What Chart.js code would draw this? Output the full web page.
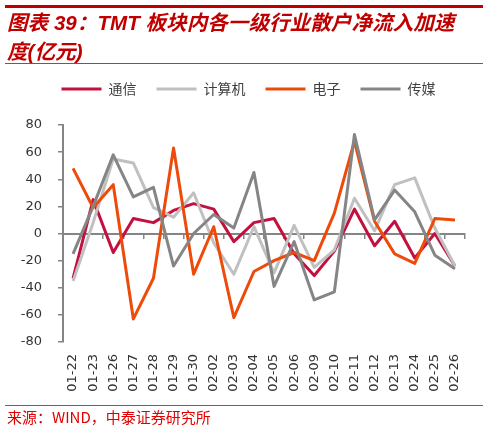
<!DOCTYPE html>
<html>
<head>
<meta charset="utf-8">
<script src="https://cdn.jsdelivr.net/npm/chart.js@4"></script>
<style>
  html, body { margin: 0; padding: 0; background: #fff; }
  #wrap { position: relative; width: 488px; height: 430px; overflow: hidden; }
  #c { position: absolute; left: 0; top: 0; }
  .rule { position: absolute; left: 5px; width: 478px; }
  #title { position: absolute; left: 7px; top: 8px; color: #C00000; font-family: "Liberation Sans", "Noto Sans CJK SC", sans-serif; font-weight: bold; font-style: italic; font-size: 20.6px; line-height: 29px; white-space: nowrap; }
  #source { position: absolute; left: 7px; top: 408px; color: #E00000; font-family: "Noto Sans CJK SC", sans-serif; font-size: 15px; line-height: 18px; white-space: nowrap; }
</style>
</head>
<body>
<div id="wrap">
  <canvas id="c" width="488" height="430"></canvas>
  <div class="rule" style="top:5px;height:3px;background:#C00000;"></div>
  <div id="title">图表 39：TMT 板块内各一级行业散户净流入加速<br>度(亿元)</div>
  <div class="rule" style="top:63px;height:1px;background:#D03030;"></div>
  <div class="rule" style="top:405px;height:1px;background:#E03030;"></div>
  <div id="source">来源：WIND，中泰证券研究所</div>
</div>
<script>
const categories = ['01-22','01-23','01-26','01-27','01-28','01-29','01-30','02-02','02-03','02-04','02-05','02-06','02-09','02-10','02-11','02-12','02-13','02-24','02-25','02-26'];
const seriesNames = ['通信', '计算机', '电子', '传媒'];
const tongxin  = [-33, 25, -14, 11, 8, 17, 22, 18, -6, 8, 11, -15, -31, -13, 18, -9, 9, -18, 0, -24];
const jisuanji = [-35, 8, 55, 52, 19, 12, 30, -7, -30, 5, -29, 6, -25, -12, 26, 2, 36, 41, 4, -24];
const dianzi   = [48, 19, 36, -63, -33, 63, -30, 5, -62, -28, -20, -14, -20, 15, 68, 9, -15, -22, 11, 10];
const chuanmei = [-15, 20, 58, 27, 34, -24, 0, 14, 4, 45, -39, -6, -49, -43, 73, 10, 32, 16, -16, -26];
const yMin = -80, yMax = 80, yStep = 20;
const seriesColors = ['#C4103F', '#C0C0C0', '#EE4B0A', '#858585'];

const axisColor = '#858585';
const tickFont = { family: '"DejaVu Sans", sans-serif', size: 13 };

const allSeries = [tongxin, jisuanji, dianzi, chuanmei];
const datasets = allSeries.map((d, i) => ({
  label: seriesNames[i],
  data: d,
  borderColor: seriesColors[i],
  backgroundColor: seriesColors[i],
  borderWidth: 3,
  pointRadius: 0,
  tension: 0,
  borderJoinStyle: 'round',
  fill: false,
  xAxisID: 'x',
  order: allSeries.length - 1 - i
}));

const legendSpacer = {
  id: 'legendSpacer',
  beforeInit(chart) {
    const orig = chart.legend.fit;
    chart.legend.fit = function () { orig.call(this); this.height += 19; };
  },
  afterLayout(chart) {
    chart.legend.left += 16;
    chart.legend.right += 16;
  }
};

new Chart(document.getElementById('c'), {
  type: 'line',
  data: { labels: categories, datasets },
  options: {
    responsive: false,
    animation: false,
    layout: { padding: { top: 62, left: 0, right: 23, bottom: 0 } },
    plugins: {
      legend: {
        display: true,
        position: 'top',
        align: 'center',
        labels: {
          boxWidth: 40,
          boxHeight: 3,
          padding: 20,
          color: '#404040',
          font: { family: '"Noto Sans CJK SC", sans-serif', size: 14 },
          sort: (a, b) => a.datasetIndex - b.datasetIndex,
          generateLabels(chart) {
            const items = Chart.defaults.plugins.legend.labels.generateLabels(chart);
            items.forEach(it => { it.lineWidth = 0; it.fillStyle = it.strokeStyle; });
            return items;
          }
        }
      },
      tooltip: { enabled: false }
    },
    scales: {
      x: {
        type: 'category',
        position: 'bottom',
        offset: true,
        grid: { display: false, drawTicks: false, offset: true },
        border: { display: false },
        ticks: { color: '#333333', font: tickFont, minRotation: 90, maxRotation: 90, padding: 12, autoSkip: false },
        afterFit(scale) { scale.height = 88; }
      },
      x2: {
        type: 'category',
        labels: categories,
        position: { y: 0 },
        offset: true,
        grid: { display: true, drawOnChartArea: false, drawTicks: true, tickLength: 4, offset: true, color: axisColor, lineWidth: 1.5 },
        border: { display: true, color: axisColor, width: 2 },
        ticks: { display: false }
      },
      y: {
        min: yMin,
        max: yMax,
        position: 'left',
        grid: { display: true, drawOnChartArea: false, drawTicks: true, tickLength: 5, color: axisColor, lineWidth: 1.5 },
        border: { display: true, color: axisColor, width: 2 },
        ticks: { stepSize: yStep, color: '#333333', font: tickFont, padding: 16 },
        afterFit(scale) { scale.width = 63; }
      }
    }
  },
  plugins: [legendSpacer]
});
</script>
</body>
</html>
